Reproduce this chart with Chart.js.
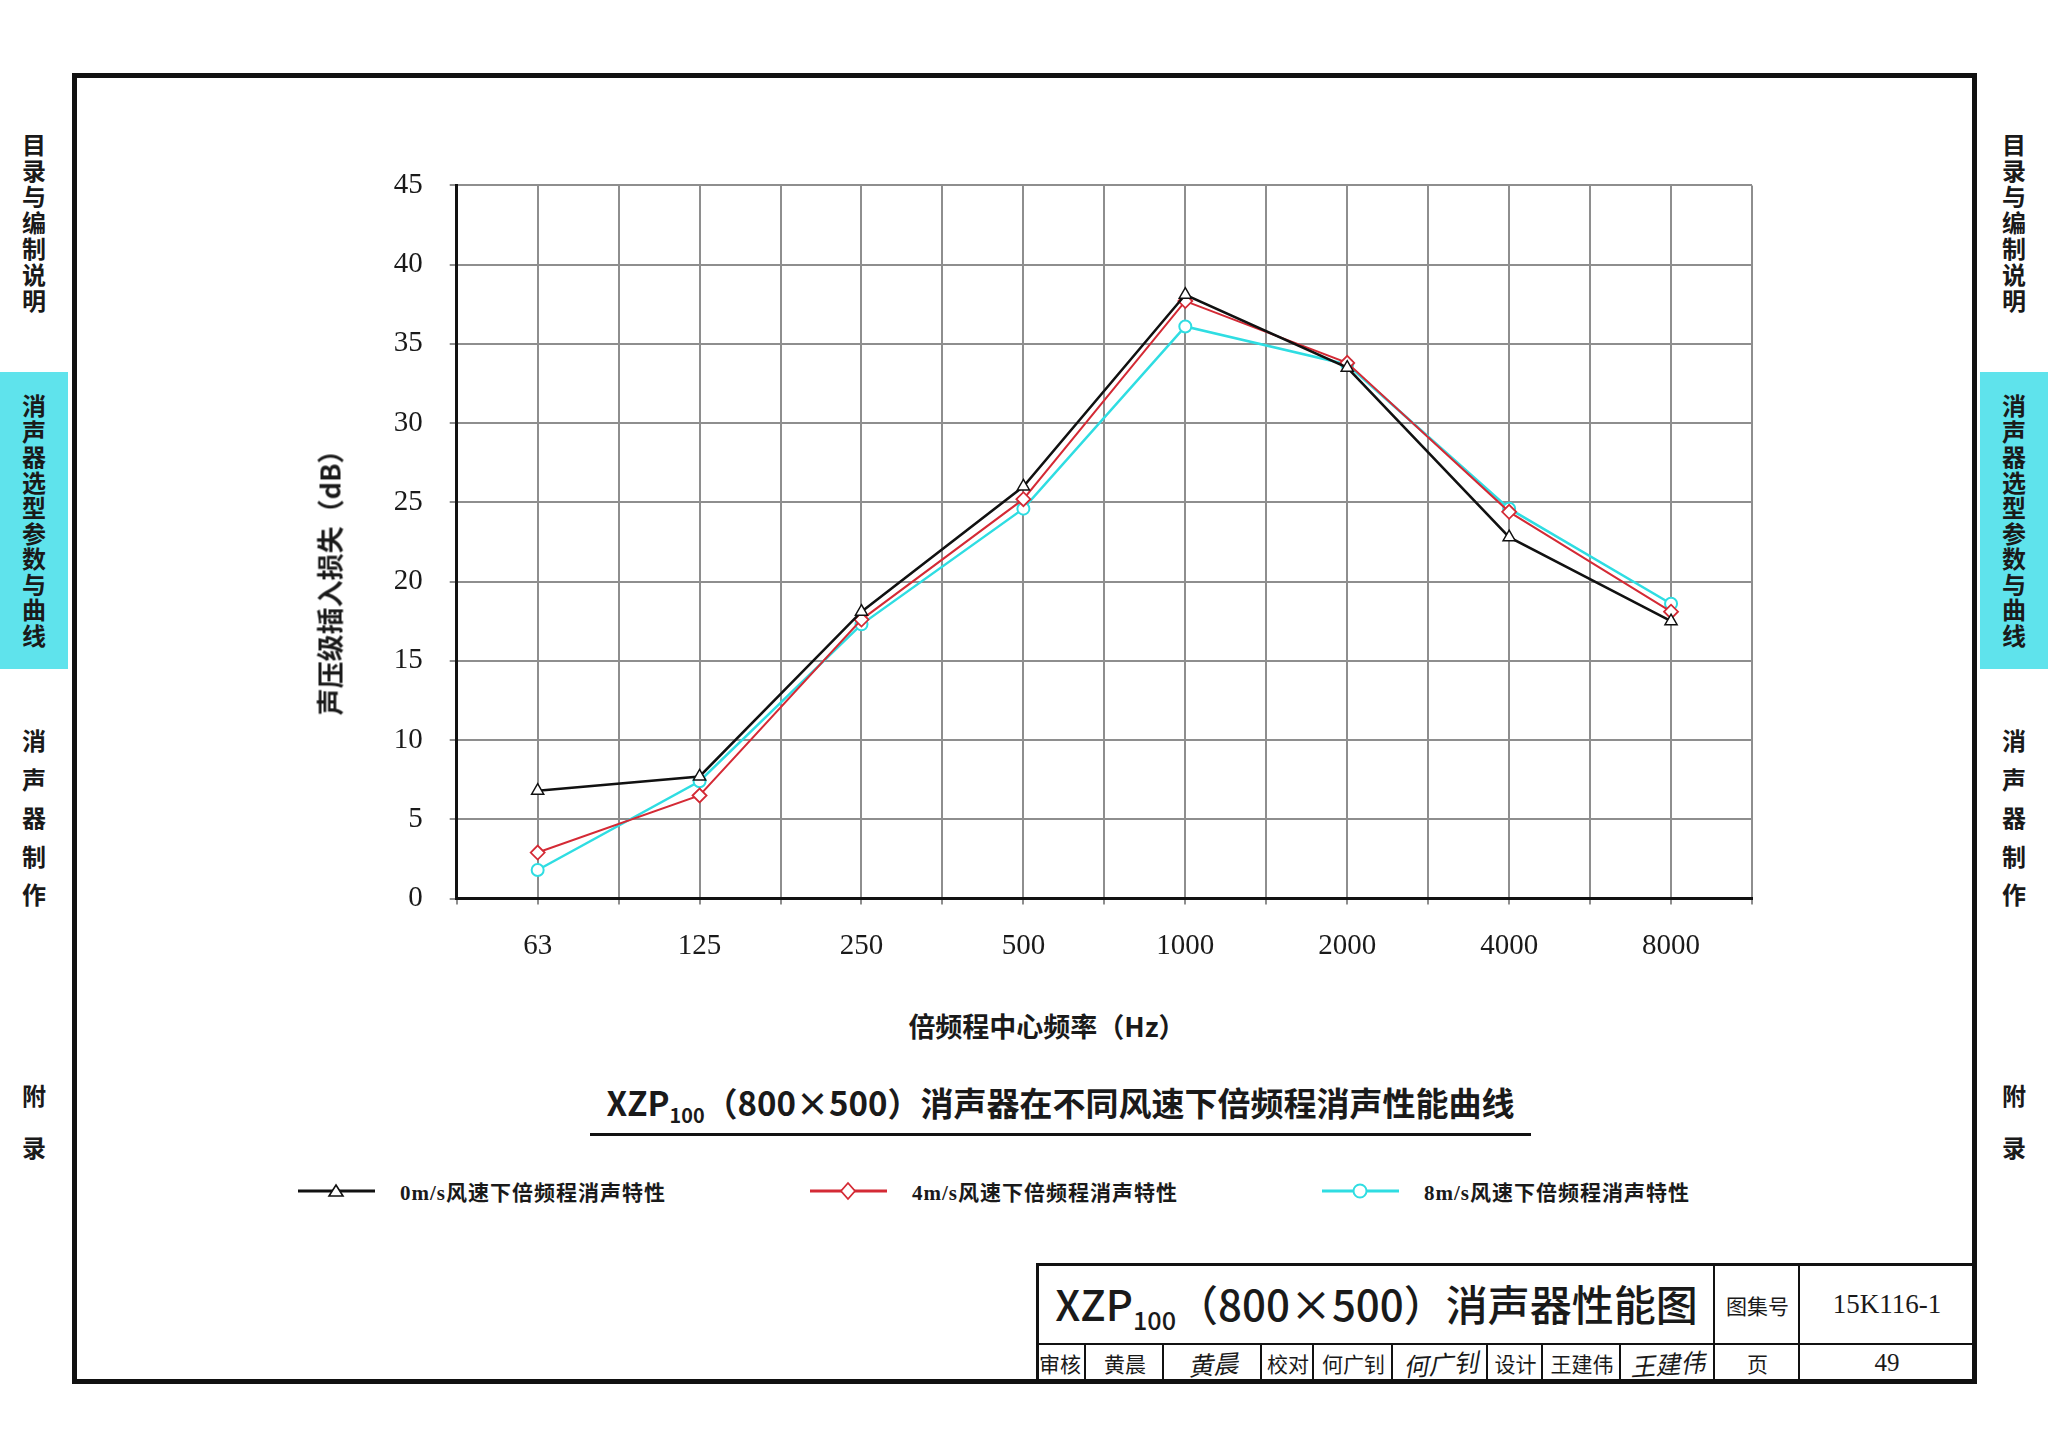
<!DOCTYPE html>
<html>
<head>
<meta charset="utf-8">
<script src="https://cdn.jsdelivr.net/npm/chart.js@4.4.0/dist/chart.umd.min.js"></script>
<style>
    body { margin: 0; width: 2048px; height: 1456px; background: #fff; position: relative; overflow: hidden;
           font-family: "Noto Sans CJK SC", "Noto Sans", sans-serif; color: #1a1a1a; }
    .abs { position: absolute; }
    .frame { left: 72px; top: 73px; width: 1895px; height: 1301px; border: 5px solid #111; }
    .tab { width: 68px; text-align: center; font-size: 24px; font-weight: 700; line-height: 26px; }
    .tab span { display: block; }
    .band { background: #5fe3ec; }
    .title { left: 590px; width: 941px; top: 1078px; text-align: center; font-size: 33px; font-weight: 600;
             border-bottom: 3px solid #111; padding-bottom: 4px; white-space: nowrap; }
    sub { font-size: 0.6em; vertical-align: -0.35em; }
    .axt { font-size: 27px; font-weight: 600; white-space: nowrap; }
    .leg { font-size: 21px; font-weight: 700; letter-spacing: 1px; font-family: "Liberation Serif", "Noto Sans CJK SC", serif; white-space: nowrap; }
    .cell { position: absolute; display: flex; align-items: center; justify-content: center;
            font-size: 21px; white-space: nowrap; }
    .sig { font-style: italic; font-family: "Noto Sans CJK SC"; font-size: 25px; transform: rotate(-4deg); }
</style>
</head>
<body>
<div class="abs frame"></div>

<!-- side tabs -->
<div class="abs band" style="left:0;top:372px;width:68px;height:297px"></div>
<div class="abs band" style="left:1980px;top:372px;width:68px;height:297px"></div>
<div id="tabs"></div>

<div class="abs" style="left:300px;top:141px;width:1500px;height:859px">
    <canvas id="noiseChart"></canvas>
</div>

<div class="abs axt" style="left:329px;top:576px;transform:translate(-50%,-50%) rotate(-90deg)">声压级插入损失（dB）</div>
<div class="abs axt" style="left:1047px;top:1025px;transform:translate(-50%,-50%)">倍频程中心频率（Hz）</div>

<div class="abs title">XZP<sub>100</sub>（800×500）消声器在不同风速下倍频程消声性能曲线</div>

<!-- legend -->
<div id="legend"></div>

<!-- title block -->
<div class="abs" style="left:1036px;top:1263px;width:934px;height:117px;border-top:3px solid #111;border-left:3px solid #111"></div>
<div class="abs" style="left:1036px;top:1343px;width:936px;border-top:2px solid #111"></div>
<div id="block"></div>

<script>
// Frequencies and insertion loss values (dB)
const freqs = ['63', '125', '250', '500', '1000', '2000', '4000', '8000'];
const speed0 = [6.8, 7.7, 18.1, 26.0, 38.1, 33.5, 22.8, 17.5];
const speed4 = [2.9, 6.5, 17.6, 25.2, 37.7, 33.8, 24.4, 18.1];
const speed8 = [1.8, 7.4, 17.3, 24.6, 36.1, 33.7, 24.6, 18.6];
const yTicks = [0, 5, 10, 15, 20, 25, 30, 35, 40, 45];
const seriesNames = ['0m/s风速下倍频程消声特性', '4m/s风速下倍频程消声特性', '8m/s风速下倍频程消声特性'];

// side tabs
function addTab(x, top, text, pitch) {
    const d = document.createElement('div');
    d.className = 'abs tab';
    d.style.left = x + 'px';
    d.style.top = top + 'px';
    d.style.lineHeight = pitch + 'px';
    d.innerHTML = text.split('').map(c => '<span>' + c + '</span>').join('');
    document.getElementById('tabs').appendChild(d);
}
[0, 1980].forEach(function(x) {
    addTab(x, 131, '目录与编制说明', 26);
    addTab(x, 392, '消声器选型参数与曲线', 25.5);
    addTab(x, 721, '消声器制作', 38.5);
    addTab(x, 1069, '附录', 52);
});

// legend
const legendItems = [
    { x: 298, color: '#111', marker: '<polygon points="38,4 45,15 31,15" fill="#fff" stroke="#111" stroke-width="1.6"/>' },
    { x: 810, color: '#d42a35', marker: '<polygon points="38,2 45,10 38,18 31,10" fill="#fff" stroke="#d42a35" stroke-width="1.8"/>' },
    { x: 1322, color: '#2fdde2', marker: '<circle cx="38" cy="10" r="6.5" fill="#fff" stroke="#2fdde2" stroke-width="2"/>' }
];
legendItems.forEach(function(it, i) {
    const d = document.createElement('div');
    d.className = 'abs';
    d.style.left = it.x + 'px';
    d.style.top = '1181px';
    d.innerHTML = '<svg width="77" height="20"><line x1="0" y1="10" x2="77" y2="10" stroke="' + it.color +
        '" stroke-width="3"/>' + it.marker + '</svg>';
    document.getElementById('legend').appendChild(d);
    const t = document.createElement('div');
    t.className = 'abs leg';
    t.style.left = (it.x + 102) + 'px';
    t.style.top = '1176px';
    t.textContent = seriesNames[i];
    document.getElementById('legend').appendChild(t);
});

// title block cells
const block = document.getElementById('block');
function cell(x1, x2, y1, y2, html, cls, border) {
    const c = document.createElement('div');
    c.className = 'cell ' + (cls || '');
    c.style.left = x1 + 'px';
    c.style.top = y1 + 'px';
    c.style.width = (x2 - x1) + 'px';
    c.style.height = (y2 - y1) + 'px';
    if (border) c.style.borderLeft = '2px solid #111';
    c.innerHTML = html;
    block.appendChild(c);
}
cell(1040, 1713, 1266, 1343, '<span style="font-size:42px;font-weight:500">XZP<sub>100</sub>（800×500）消声器性能图</span>');
cell(1713, 1798, 1266, 1343, '图集号', '', true);
cell(1798, 1972, 1266, 1343, '<span style="font-family:Liberation Serif;font-size:27px">15K116-1</span>', '', true);
const rowCells = [
    [1036, 1084, '审核'], [1084, 1162, '黄晨'], [1162, 1260, '<span class="sig">黄晨</span>'],
    [1260, 1312, '校对'], [1312, 1391, '何广钊'], [1391, 1486, '<span class="sig">何广钊</span>'],
    [1486, 1541, '设计'], [1541, 1619, '王建伟'], [1619, 1713, '<span class="sig">王建伟</span>'],
    [1713, 1798, '页'], [1798, 1972, '<span style="font-family:Liberation Serif;font-size:25px">49</span>']
];
rowCells.forEach(function(c, i) {
    cell(c[0], c[1], 1345, 1380, c[2], '', i > 0);
});

// Chart
const makePoints = arr => arr.map((v, i) => ({ x: i, y: v }));
const ctx = document.getElementById('noiseChart').getContext('2d');
new Chart(ctx, {
    type: 'line',
    data: {
        datasets: [{
            label: seriesNames[0],
            data: makePoints(speed0),
            borderColor: '#111',
            borderWidth: 2.5,
            pointStyle: 'triangle',
            pointRadius: 7,
            pointBorderWidth: 1.5,
            pointBackgroundColor: '#fff',
            pointBorderColor: '#111',
            tension: 0
        }, {
            label: seriesNames[1],
            data: makePoints(speed4),
            borderColor: '#d42a35',
            borderWidth: 2,
            pointStyle: 'rectRot',
            pointRadius: 7,
            pointBorderWidth: 1.8,
            pointBackgroundColor: '#fff',
            pointBorderColor: '#d42a35',
            tension: 0
        }, {
            label: seriesNames[2],
            data: makePoints(speed8),
            borderColor: '#2fdde2',
            borderWidth: 2.5,
            pointStyle: 'circle',
            pointRadius: 6,
            pointBorderWidth: 2,
            pointBackgroundColor: '#fff',
            pointBorderColor: '#2fdde2',
            tension: 0
        }]
    },
    options: {
        responsive: true,
        maintainAspectRatio: false,
        animation: false,
        devicePixelRatio: 1,
        layout: { padding: { top: 0, right: 48, left: 0, bottom: 0 } },
        plugins: {
            legend: { display: false },
            tooltip: { enabled: false }
        },
        scales: {
            x: {
                type: 'linear',
                min: -0.5,
                max: 7.5,
                afterFit: function(scale) { scale.height = 101.5; },
                ticks: {
                    stepSize: 0.5,
                    autoSkip: false,
                    maxRotation: 0,
                    padding: 24,
                    color: '#1a1a1a',
                    font: { family: 'Liberation Serif', size: 29 },
                    callback: v => Number.isInteger(v) ? freqs[v] : ''
                },
                grid: { color: '#8e8e8e', lineWidth: 2, drawTicks: true, tickLength: 6 },
                border: { display: true, color: '#111', width: 3 }
            },
            y: {
                min: 0,
                max: 45,
                afterFit: function(scale) { scale.width = 156.7; },
                afterBuildTicks: function(scale) { scale.ticks = yTicks.map(v => ({ value: v })); },
                ticks: {
                    padding: 27,
                    color: '#1a1a1a',
                    font: { family: 'Liberation Serif', size: 29 }
                },
                grid: { color: '#8e8e8e', lineWidth: 2, drawTicks: true, tickLength: 7 },
                border: { display: true, color: '#111', width: 3 }
            }
        }
    }
});
</script>
</body>
</html>
